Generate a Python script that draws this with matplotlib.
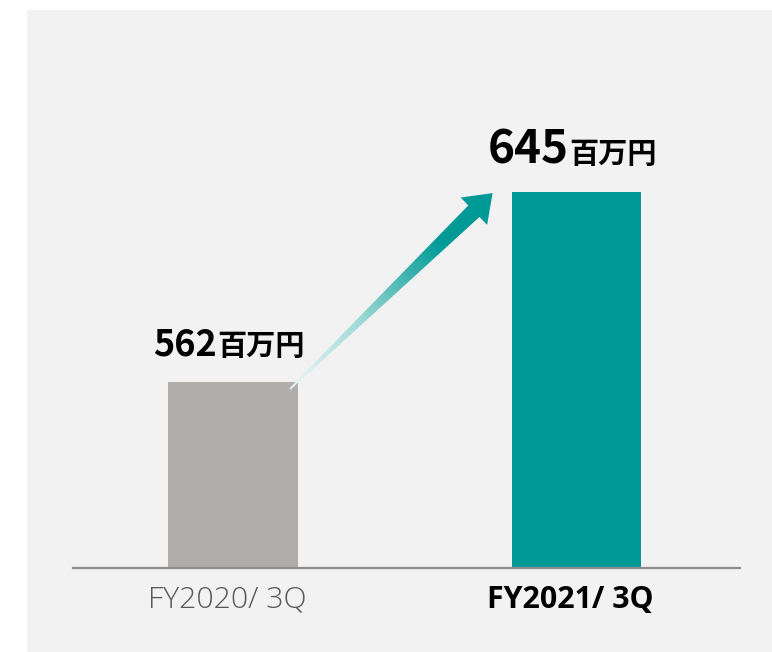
import matplotlib
matplotlib.use("Agg")
import matplotlib.pyplot as plt
import numpy as np
from matplotlib.patches import Rectangle, Polygon
from matplotlib.colors import LinearSegmentedColormap
from matplotlib.offsetbox import TextArea, HPacker, AnnotationBbox
from matplotlib.transforms import ScaledTranslation

plt.rcParams['font.family'] = ['Noto Sans CJK JP', 'DejaVu Sans']

categories = ["FY2020/ 3Q", "FY2021/ 3Q"]
values = [562, 645]
unit = "百万円"
bar_colors = ["#b0adab", "#009a96"]
tick_colors = ["#595959", "#000000"]
tick_weights = ["light", "bold"]
num_sizes = [26, 33]
unit_size = 21

W, H = 772, 652
fig = plt.figure(figsize=(W / 100, H / 100), dpi=100)
fig.patch.set_facecolor("white")

bg = fig.add_axes([0, 0, 1, 1], zorder=-5)
bg.set_xlim(0, W)
bg.set_ylim(0, H)
bg.axis("off")
bg.add_patch(Rectangle((27, 0), W - 27, H - 10, facecolor="#f2f2f2", edgecolor="none"))

ax = fig.add_axes([73 / W, (H - 568) / H, 667 / W, (568 - 10) / H], zorder=1)
ax.set_facecolor("none")
x = np.arange(len(categories))
bw = 0.378
ax.bar(x, values, width=bw, color=bar_colors, zorder=2)
ax.set_xlim(-0.466, 1.476)
ax.set_ylim(480.7, 724.6)
for s in ["top", "right", "left"]:
    ax.spines[s].set_visible(False)
ax.spines["bottom"].set_color("#8c8c8c")
ax.spines["bottom"].set_linewidth(1.6)
ax.set_yticks([])
ax.set_xticks(x)
ax.set_xticklabels(categories)
ax.tick_params(axis="x", length=0, pad=12.5)
for lab, c, w in zip(ax.get_xticklabels(), tick_colors, tick_weights):
    lab.set_color(c)
    lab.set_fontweight(w)
    lab.set_fontsize(21.8)
    lab.set_fontfamily(["Open Sans", "DejaVu Sans"])
    lab.set_transform(lab.get_transform() + ScaledTranslation(-6 / 100, 0, fig.dpi_scale_trans))

# value labels
for i, v in enumerate(values):
    t1 = TextArea(str(v), textprops=dict(fontsize=num_sizes[i], fontweight="bold", color="black"))
    t2 = TextArea(unit, textprops=dict(fontsize=unit_size, fontweight="bold", color="black"))
    pk = HPacker(children=[t1, t2], align="baseline", pad=0, sep=0)
    ab = AnnotationBbox(pk, (i, v), xybox=(-3, 13.5), boxcoords="offset points",
                        box_alignment=(0.5, 0), frameon=False)
    ax.add_artist(ab)

# gradient arrow from bar 1 top-right to bar 2 top-left
ov = fig.add_axes([0, 0, 1, 1], zorder=5)
ov.set_xlim(0, W)
ov.set_ylim(0, H)
ov.axis("off")
ov.patch.set_alpha(0)

T = ax.transData.transform((x[0] + bw / 2, values[0])) + np.array([-8, -7])
P = ax.transData.transform((x[1] - bw / 2, values[1])) + np.array([-19, -1])
u = (P - T) / np.linalg.norm(P - T)
n = np.array([-u[1], u[0]])
L, hw, sw, tw = 26, 19, 8, 0.8
Hb = P - u * L
pts = [T + n * tw, Hb + n * sw, Hb + n * hw, P, Hb - n * hw, Hb - n * sw, T - n * tw]
poly = Polygon(pts, closed=True, facecolor="none", edgecolor="none")
ov.add_patch(poly)

cmap = LinearSegmentedColormap.from_list("arr", [
    (0.0, "#eaf8f8"), (0.35, "#9fd9d6"), (0.58, "#3fb3ae"), (0.75, "#009a96"), (1.0, "#009a96")])
xs = np.linspace(0, W, 400)
ys = np.linspace(0, H, 400)
XX, YY = np.meshgrid(xs, ys)
tt = ((XX - T[0]) * (P[0] - T[0]) + (YY - T[1]) * (P[1] - T[1])) / np.sum((P - T) ** 2)
im = ov.imshow(np.clip(tt, 0, 1), extent=(0, W, 0, H), origin="lower", cmap=cmap,
               vmin=0, vmax=1, interpolation="bilinear", aspect="auto")
im.set_clip_path(poly)

fig.savefig("out.png", dpi=100)
